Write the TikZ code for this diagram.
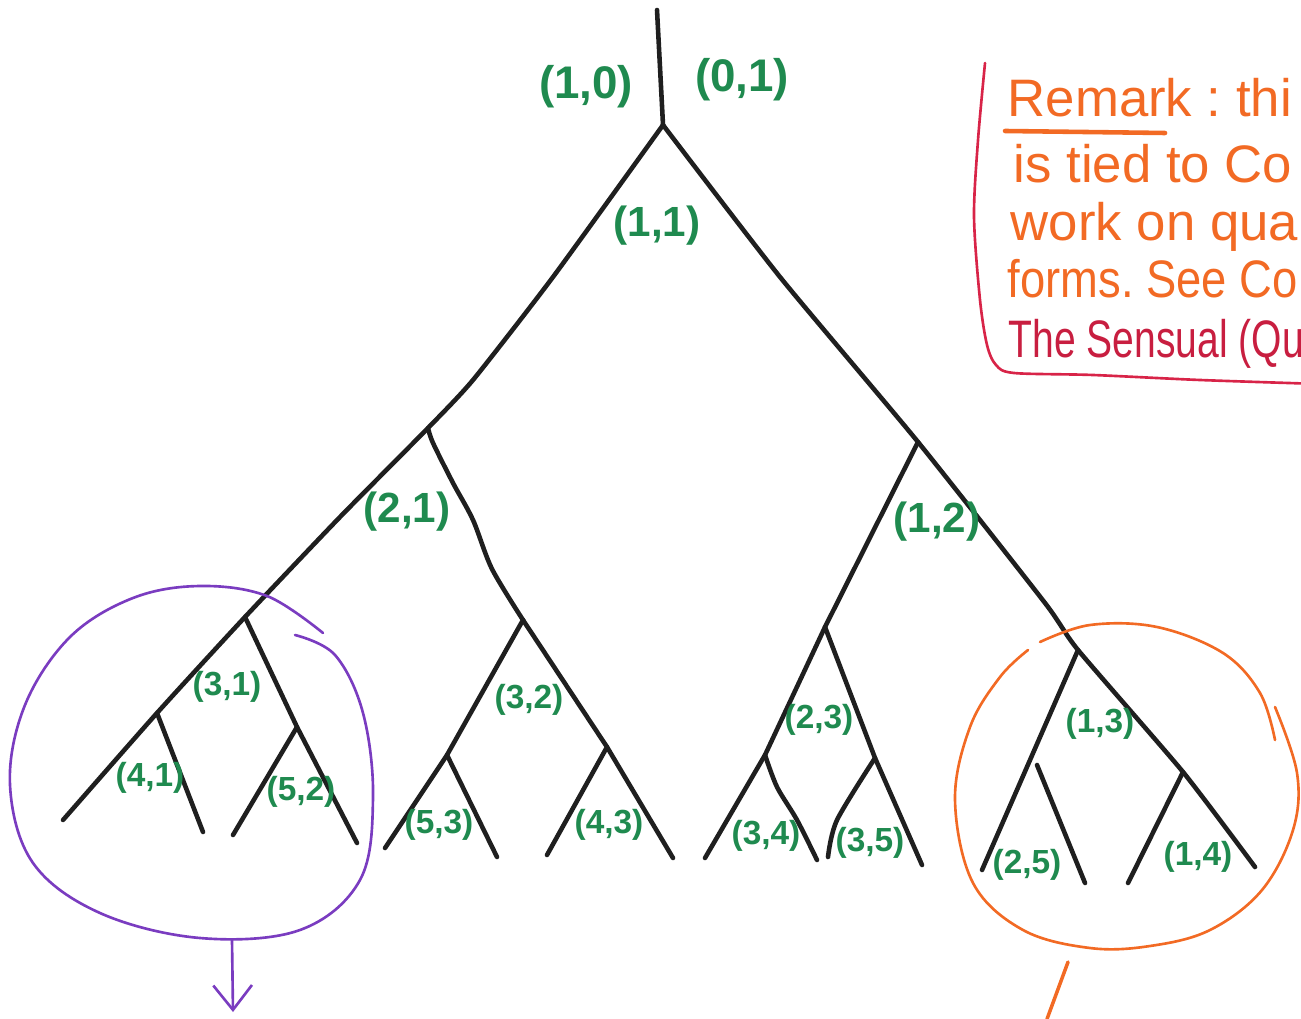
\documentclass[tikz,border=0pt]{standalone}
\usepackage{fontspec}
\setmainfont{Liberation Sans}
\usetikzlibrary{arrows.meta}
\definecolor{lblgreen}{HTML}{1F8A4F}
\definecolor{inkpurple}{HTML}{7A3CC0}
\definecolor{inkorange}{HTML}{F26A24}
\definecolor{inkred}{HTML}{D82448}
\definecolor{inkcrimson}{HTML}{C81E40}
\frenchspacing
\begin{document}
\begin{tikzpicture}[x=0.01cm,y=-0.01cm,
  tree/.style={line width=1.3pt, black!88, line cap=round, line join=round},
  lblbig/.style={text=lblgreen, font=\bfseries\fontsize{13}{13}\selectfont, inner sep=0pt},
  lblmid/.style={text=lblgreen, font=\bfseries\fontsize{12}{12}\selectfont, inner sep=0pt},
  lblsmall/.style={text=lblgreen, font=\bfseries\fontsize{9.5}{9.5}\selectfont, inner sep=0pt},
  loop/.style={line width=0.75pt, line cap=round},
  remarkline/.style={anchor=base west, inner sep=0pt, font=\fontsize{15}{15}\selectfont}]
\useasboundingbox (0,0) rectangle (1301,1019);
\begin{scope}
\clip (0,0) rectangle (1301,1019);

% ---- tree coordinates ----
\coordinate (top) at (657,10);
\coordinate (R) at (663,125);
\coordinate (L1) at (553,277);
\coordinate (L2) at (473,380);
\coordinate (J21) at (428,428);
\coordinate (L3) at (340,517);
\coordinate (J31) at (245,617);
\coordinate (J41) at (157,713);
\coordinate (E1) at (63,820);
\coordinate (J52) at (297,727);
\coordinate (E4) at (357,843);
\coordinate (E2) at (203,832);
\coordinate (E3) at (233,835);
\coordinate (B1) at (433,443);
\coordinate (B2) at (453,483);
\coordinate (B3) at (473,520);
\coordinate (B4) at (492,569);
\coordinate (J32) at (523,620);
\coordinate (J53) at (447,755);
\coordinate (E5) at (385,848);
\coordinate (J43) at (607,747);
\coordinate (E8) at (673,858);
\coordinate (E6) at (497,857);
\coordinate (E7) at (547,855);
\coordinate (R1) at (780,277);
\coordinate (J12) at (918,442);
\coordinate (R2) at (1045,603);
\coordinate (J13) at (1078,650);
\coordinate (J14) at (1183,772);
\coordinate (E16) at (1255,867);
\coordinate (J23) at (825,627);
\coordinate (J34) at (765,755);
\coordinate (E9) at (705,858);
\coordinate (C1) at (777,787);
\coordinate (C2) at (797,820);
\coordinate (E10) at (817,860);
\coordinate (J35) at (875,758);
\coordinate (E12) at (922,865);
\coordinate (D1) at (837,820);
\coordinate (E11) at (828,857);
\coordinate (M1) at (1030,760);
\coordinate (E13) at (982,870);
\coordinate (S1) at (1037,765);
\coordinate (E14) at (1085,883);
\coordinate (E15) at (1128,883);

% ---- tree ----
\draw[tree] (top) -- (R);
\draw[tree] plot[smooth, tension=0.35] coordinates {(R) (L1) (L2) (J21) (L3) (J31) (J41) (E1)};
\draw[tree] (J31) -- (J52) -- (E4);
\draw[tree] (J41) -- (E2);
\draw[tree] (J52) -- (E3);
\draw[tree] plot[smooth, tension=0.5] coordinates {(J21) (B1) (B2) (B3) (B4) (J32)};
\draw[tree] (J32) -- (J53) -- (E5);
\draw[tree] (J32) -- (J43) -- (E8);
\draw[tree] (J53) -- (E6);
\draw[tree] (J43) -- (E7);
\draw[tree] plot[smooth, tension=0.35] coordinates {(R) (R1) (J12) (R2) (J13) (J14) (E16)};
\draw[tree] (J12) -- (J23) -- (J34) -- (E9);
\draw[tree] plot[smooth, tension=0.5] coordinates {(J34) (C1) (C2) (E10)};
\draw[tree] (J23) -- (J35) -- (E12);
\draw[tree] plot[smooth, tension=0.5] coordinates {(J35) (D1) (E11)};
\draw[tree] (J13) -- (M1) -- (E13);
\draw[tree] (S1) -- (E14);
\draw[tree] (J14) -- (E15);

% ---- labels ----
\node[lblbig] (l10) at (586,87) {(1,0)};
\node[lblbig] (l01) at (742,80) {(0,1)};
\node[lblmid] (l11) at (657,226) {(1,1)};
\node[lblmid] (l21) at (407,512) {(2,1)};
\node[lblmid] (l12) at (937,522) {(1,2)};
\node[lblsmall] (l31) at (227,687) {(3,1)};
\node[lblsmall] (l32) at (529,700) {(3,2)};
\node[lblsmall] (l23) at (819,720) {(2,3)};
\node[lblsmall] (l13) at (1100,724) {(1,3)};
\node[lblsmall] (l41) at (150,778) {(4,1)};
\node[lblsmall] (l52) at (301,792) {(5,2)};
\node[lblsmall] (l53) at (439,825) {(5,3)};
\node[lblsmall] (l43) at (609,825) {(4,3)};
\node[lblsmall] (l34) at (766,836) {(3,4)};
\node[lblsmall] (l35) at (870,843) {(3,5)};
\node[lblsmall] (l25) at (1027,865) {(2,5)};
\node[lblsmall] (l14) at (1198,857) {(1,4)};

% ---- purple loop and arrow ----
\draw[loop, inkpurple] plot[smooth, tension=0.6] coordinates {(323,633) (267,596) (200,586) (133,598) (70,637) (25,705) (10,785) (33,863) (100,913) (200,938) (300,930) (360,880) (373,797) (363,713) (335,655) (295,635)};
\coordinate (pa) at (232,940);
\coordinate (pb) at (233,1012);
\draw[loop, inkpurple, -{Straight Barb[length=7pt,width=11pt,line width=0.75pt]}] (pa) -- (pb);

% ---- orange loop and tail ----
\draw[loop, inkorange] plot[smooth, tension=0.6] coordinates {(1275,707) (1297,773) (1293,830) (1262,890) (1210,930) (1150,946) (1090,948) (1023,930) (973,883) (955,800) (970,727) (1000,677) (1028,650)};
\draw[loop, inkorange] plot[smooth, tension=0.6] coordinates {(1040,642) (1090,625) (1157,627) (1223,653) (1260,693) (1275,740)};
\coordinate (oa) at (1068,962);
\coordinate (ob) at (1047,1019);
\draw[loop, inkorange, line width=1pt] (oa) -- (ob);

% ---- remark box ----
\draw[loop, inkred] plot[smooth, tension=0.5] coordinates {(985,63) (978,140) (974,217) (980,300) (987,345) (996,365) (1014,373) (1093,375) (1200,380) (1320,384)};
\node[remarkline, text=inkorange] (r1) at (1007,117) {Remark : thi};
\draw[inkorange, line width=1.3pt, line cap=round] (1005,131) -- (1165,133);
\node[remarkline, text=inkorange] (r2) at (1013,183) {is tied to Co};
\node[remarkline, text=inkorange] (r3) at (1010,241) {work on qua};
\node[remarkline, text=inkorange] (r4) at (1007,298) {\scalebox{0.86}[1]{forms. See Co}};
\node[remarkline, text=inkcrimson] (r5) at (1008,358) {\scalebox{0.74}[1]{The Sensual (Qu}};
\end{scope}
\end{tikzpicture}
\end{document}
